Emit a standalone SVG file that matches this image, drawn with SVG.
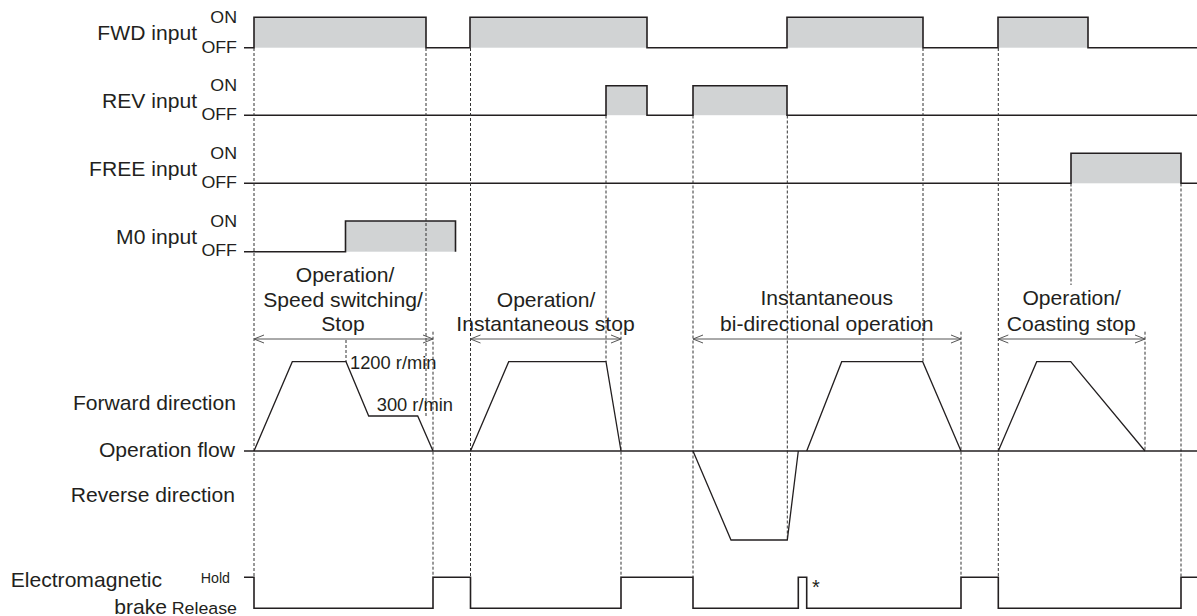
<svg xmlns="http://www.w3.org/2000/svg" width="1197" height="616" viewBox="0 0 1197 616">
<style>
text{font-family:"Liberation Sans",Arial,sans-serif;fill:#231f20}
.lg{font-size:20.5px}
.sm{font-size:17.3px}
.r{font-size:17.8px}
.e{text-anchor:end}
.m{text-anchor:middle}
.sig{fill:none;stroke:#231f20;stroke-width:1.6}
.fill{fill:#d1d3d4;stroke:none}
.spd{fill:none;stroke:#231f20;stroke-width:1.3;stroke-linejoin:miter}
.dash{stroke:#333;stroke-width:1;stroke-dasharray:3 2;fill:none}
.arr{stroke:#555;stroke-width:1;fill:none;marker-start:url(#ah);marker-end:url(#ah)}
</style>
<defs>
<marker id="ah" viewBox="0 0 12 10" refX="11" refY="5" markerWidth="12" markerHeight="10" markerUnits="userSpaceOnUse" orient="auto-start-reverse">
<path d="M1,1 L11,5 L1,9" fill="none" stroke="#555" stroke-width="1"/>
</marker>
</defs>
<rect width="1197" height="616" fill="#fff"/>

<g id="fwd">
<rect class="fill" x="254" y="17.3" width="172" height="30.4"/>
<rect class="fill" x="470" y="17.3" width="177" height="30.4"/>
<rect class="fill" x="787" y="17.3" width="136" height="30.4"/>
<rect class="fill" x="998" y="17.3" width="90" height="30.4"/>
<path class="sig" d="M244,47.7 H254 V17.3 H426 V47.7 H470 V17.3 H647 V47.7 H787 V17.3 H923 V47.7 H998 V17.3 H1088 V47.7 H1197"/>
<text class="lg e" transform="translate(197,40) scale(1.03,1)">FWD input</text>
<text class="sm e" transform="translate(237,23.3) scale(1.03,1)">ON</text>
<text class="sm e" transform="translate(237,52.7) scale(1.03,1)">OFF</text>
</g>

<g id="rev">
<rect class="fill" x="606" y="85.7" width="41" height="29.5"/>
<rect class="fill" x="693" y="85.7" width="94" height="29.5"/>
<path class="sig" d="M244,115.2 H606 V85.7 H647 V115.2 H693 V85.7 H787 V115.2 H1197"/>
<text class="lg e" transform="translate(197,107.5) scale(1.03,1)">REV input</text>
<text class="sm e" transform="translate(237,91) scale(1.03,1)">ON</text>
<text class="sm e" transform="translate(237,120.3) scale(1.03,1)">OFF</text>
</g>

<g id="free">
<rect class="fill" x="1071" y="153.3" width="110" height="30"/>
<path class="sig" d="M244,183.3 H1071 V153.3 H1181 V183.3 H1197"/>
<text class="lg e" transform="translate(197,176) scale(1.03,1)">FREE input</text>
<text class="sm e" transform="translate(237,159.3) scale(1.03,1)">ON</text>
<text class="sm e" transform="translate(237,188.3) scale(1.03,1)">OFF</text>
</g>

<g id="m0">
<rect class="fill" x="345.5" y="221" width="110" height="30.7"/>
<path class="sig" d="M244,251.7 H345.5 V221 H455.5 V251.7"/>
<text class="lg e" transform="translate(197,243.5) scale(1.03,1)">M0 input</text>
<text class="sm e" transform="translate(237,226.7) scale(1.03,1)">ON</text>
<text class="sm e" transform="translate(237,255.5) scale(1.03,1)">OFF</text>
</g>

<g id="connectors">
<line class="dash" x1="254" y1="48" x2="254" y2="577"/>
<line class="dash" x1="426" y1="48" x2="426" y2="416"/>
<line class="dash" x1="346" y1="340" x2="346" y2="361.7"/>
<line class="dash" x1="433" y1="331.7" x2="433" y2="577"/>
<line class="dash" x1="470.5" y1="48" x2="470.5" y2="577"/>
<line class="dash" x1="606" y1="115.5" x2="606" y2="361.7"/>
<line class="dash" x1="621" y1="331.7" x2="621" y2="577"/>
<line class="dash" x1="693" y1="115.5" x2="693" y2="577"/>
<line class="dash" x1="787.3" y1="115.5" x2="787.3" y2="540"/>
<line class="dash" x1="923" y1="48" x2="923" y2="361.7"/>
<line class="dash" x1="961" y1="331.7" x2="961" y2="577"/>
<line class="dash" x1="998.3" y1="48" x2="998.3" y2="577"/>
<line class="dash" x1="1071" y1="183.5" x2="1071" y2="285"/>
<line class="dash" x1="1145" y1="331.7" x2="1145" y2="451"/>
<line class="dash" x1="1181" y1="183.5" x2="1181" y2="577"/>
<line class="arr" x1="254" y1="339" x2="433" y2="339"/>
<line class="arr" x1="470.5" y1="339" x2="621" y2="339"/>
<line class="arr" x1="693" y1="339" x2="961" y2="339"/>
<line class="arr" x1="998.3" y1="339" x2="1145" y2="339"/>
</g>

<g id="phase-labels">
<text class="lg m" transform="translate(345,281.7) scale(1.03,1)">Operation/</text>
<text class="lg m" transform="translate(343,306.7) scale(1.03,1)">Speed switching/</text>
<text class="lg m" transform="translate(343,331) scale(1.03,1)">Stop</text>
<text class="lg m" transform="translate(546,306.7) scale(1.03,1)">Operation/</text>
<text class="lg m" transform="translate(545.5,331) scale(1.03,1)">Instantaneous stop</text>
<text class="lg m" transform="translate(826.7,305) scale(1.03,1)">Instantaneous</text>
<text class="lg m" transform="translate(826.8,331) scale(1.03,1)">bi-directional operation</text>
<text class="lg m" transform="translate(1071.7,305) scale(1.03,1)">Operation/</text>
<text class="lg m" transform="translate(1071.3,331) scale(1.03,1)">Coasting stop</text>
</g>

<g id="operation-flow">
<line class="sig" x1="244" y1="451" x2="1197" y2="451"/>
<path class="spd" d="M254,451 L292.3,361.7 H346 L368.7,416 H417.7 L433,451"/>
<path class="spd" d="M470.5,451 L508.7,361.7 H606 L621,451"/>
<path class="spd" d="M693,451 L731,540 H787.3 L798.3,451"/>
<path class="spd" d="M806.7,451 L841.7,361.7 H922.7 L961,451"/>
<path class="spd" d="M998.3,451 L1036.7,361.7 H1070.7 L1145,451"/>
<text class="r" transform="translate(350,369) scale(1.03,1)">1200 r/min</text>
<text class="r" transform="translate(376.7,411) scale(1.03,1)">300 r/min</text>
<text class="lg e" transform="translate(236,410) scale(1.03,1)">Forward direction</text>
<text class="lg e" transform="translate(235,457.3) scale(1.03,1)">Operation flow</text>
<text class="lg e" transform="translate(235,501.7) scale(1.03,1)">Reverse direction</text>
</g>

<g id="brake">
<path class="sig" d="M244,577.3 H254 V608.3 H433 V577.3 H470.5 V608.3 H621 V577.3 H693 V608.3 H798.3 V577.3 H806.7 V608.3 H961 V577.3 H998.3 V608.3 H1181 V577.3 H1197"/>
<text class="lg e" transform="translate(162,586.7) scale(1.03,1)">Electromagnetic</text>
<text class="lg e" transform="translate(167,614) scale(1.03,1)">brake</text>
<text class="e" style="font-size:15px" transform="translate(230,583) scale(0.95,1)">Hold</text>
<text class="sm e" transform="translate(237,614) scale(1.03,1)">Release</text>
<text style="font-size:20px" x="812" y="594">*</text>
</g>
</svg>
